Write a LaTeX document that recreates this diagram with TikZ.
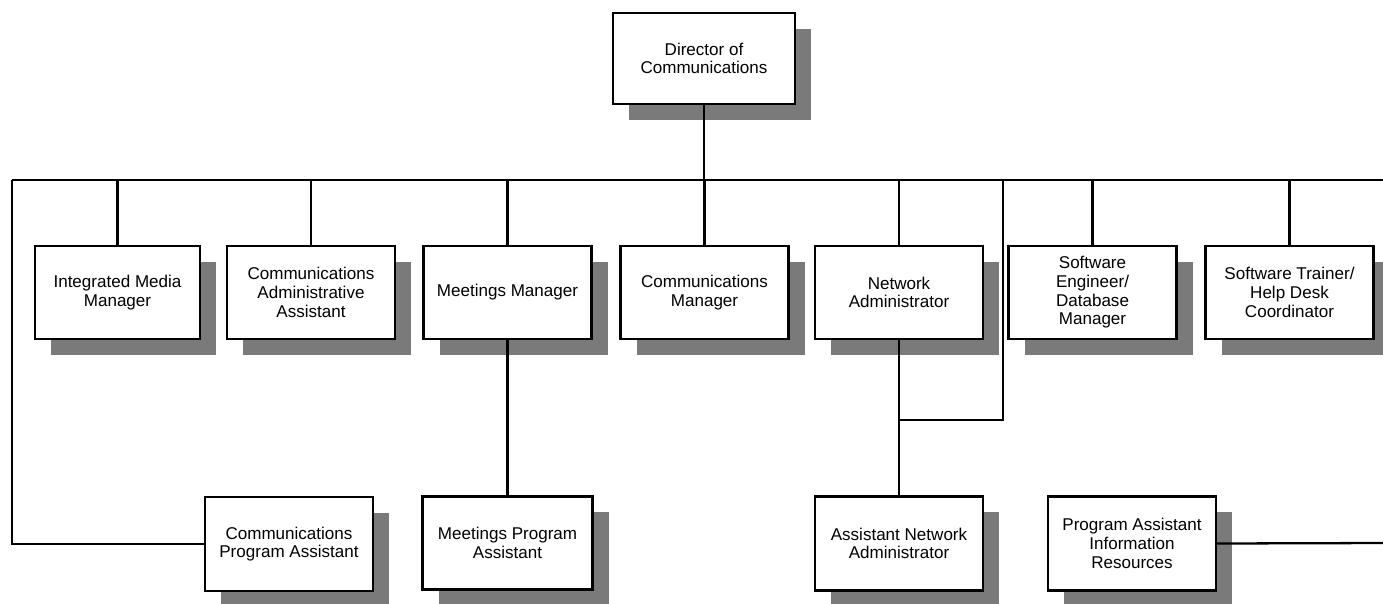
\documentclass[tikz,border=0pt]{standalone}
\usepackage{fontspec}
\setmainfont{Liberation Sans}
\usepackage{tikz}
\usetikzlibrary{shadows, calc}
\usepackage{xcolor}
\definecolor{ChartBlack}{HTML}{000000}
\definecolor{ChartWhite}{HTML}{ffffff}
\definecolor{ChartShadow}{HTML}{7a7a7a}
\tikzset{
    % Box styles - plain rectangles with a drop shadow
    post/.style={
        rectangle,
        draw=ChartBlack,
        fill=ChartWhite,
        line width=1.3pt,
        minimum width=3.36cm,
        minimum height=1.86cm,
        align=center,
        inner sep=2pt,
        font=\fontsize{9.7}{10.6}\selectfont,
        drop shadow={shadow xshift=0.32cm, shadow yshift=-0.31cm,
                     fill=ChartShadow, opacity=1}
    },
    head/.style={
        post,
        minimum width=3.64cm,
        minimum height=1.82cm
    },
    % Line styles - straight lines only
    link/.style={
        line width=1.3pt,
        draw=ChartBlack
    }
}
\begin{document}
\begin{tikzpicture}
    \useasboundingbox (0,0) rectangle (27.66,-12.06);

    \node[head] (dir) at (14.08,-1.17) {Director of\\Communications};

    \node[post, minimum width=3.3cm] (imm) at (2.35,-5.85) {Integrated Media\\Manager};
    \node[post] (caa) at (6.22,-5.85) {Communications\\Administrative\\Assistant};
    \node[post] (mm) at (10.15,-5.85) {Meetings Manager};
    \node[post] (cm) at (14.09,-5.85) {Communications\\Manager};
    \node[post] (na) at (17.98,-5.85) {Network\\Administrator};
    \node[post] (se) at (21.85,-5.85) {Software\\Engineer/\\Database\\Manager};
    \node[post] (st) at (25.79,-5.85) {Software Trainer/\\Help Desk\\Coordinator};

    \node[post, minimum height=1.88cm] (cpa) at (5.78,-10.88) {Communications\\Program Assistant};
    \node[post, minimum width=3.4cm] (mpa) at (10.15,-10.86) {Meetings Program\\Assistant};
    \node[post, minimum height=1.88cm] (ana) at (17.98,-10.87) {Assistant Network\\Administrator};
    \node[post, minimum height=1.88cm] (pair) at (22.64,-10.87) {Program Assistant\\Information\\Resources};

    \coordinate (busL) at (0.24,-3.6);
    \coordinate (busR) at (27.66,-3.6);
    \coordinate (edgeR) at (27.66,-10.86);
    \coordinate (jn) at (20.06,-8.4);

    \draw[link] (busL) -- (busR);
    \draw[link] (dir.south) -- (dir.south |- busL);
    \draw[link] (imm.north) -- (imm.north |- busL);
    \draw[link] (caa.north) -- (caa.north |- busL);
    \draw[link] (mm.north) -- (mm.north |- busL);
    \draw[link] (cm.north) -- (cm.north |- busL);
    \draw[link] (na.north) -- (na.north |- busL);
    \draw[link] (se.north) -- (se.north |- busL);
    \draw[link] (st.north) -- (st.north |- busL);

    \draw[link] (busL) |- (cpa.west);
    \draw[link] (mm.south) -- (mpa.north);
    \draw[link] (na.south) -- (ana.north);
    \draw[link] (jn |- busL) -- (jn) -- (jn -| na.south);
    \draw[link] (pair.east) -- (edgeR);
\end{tikzpicture}
\end{document}
